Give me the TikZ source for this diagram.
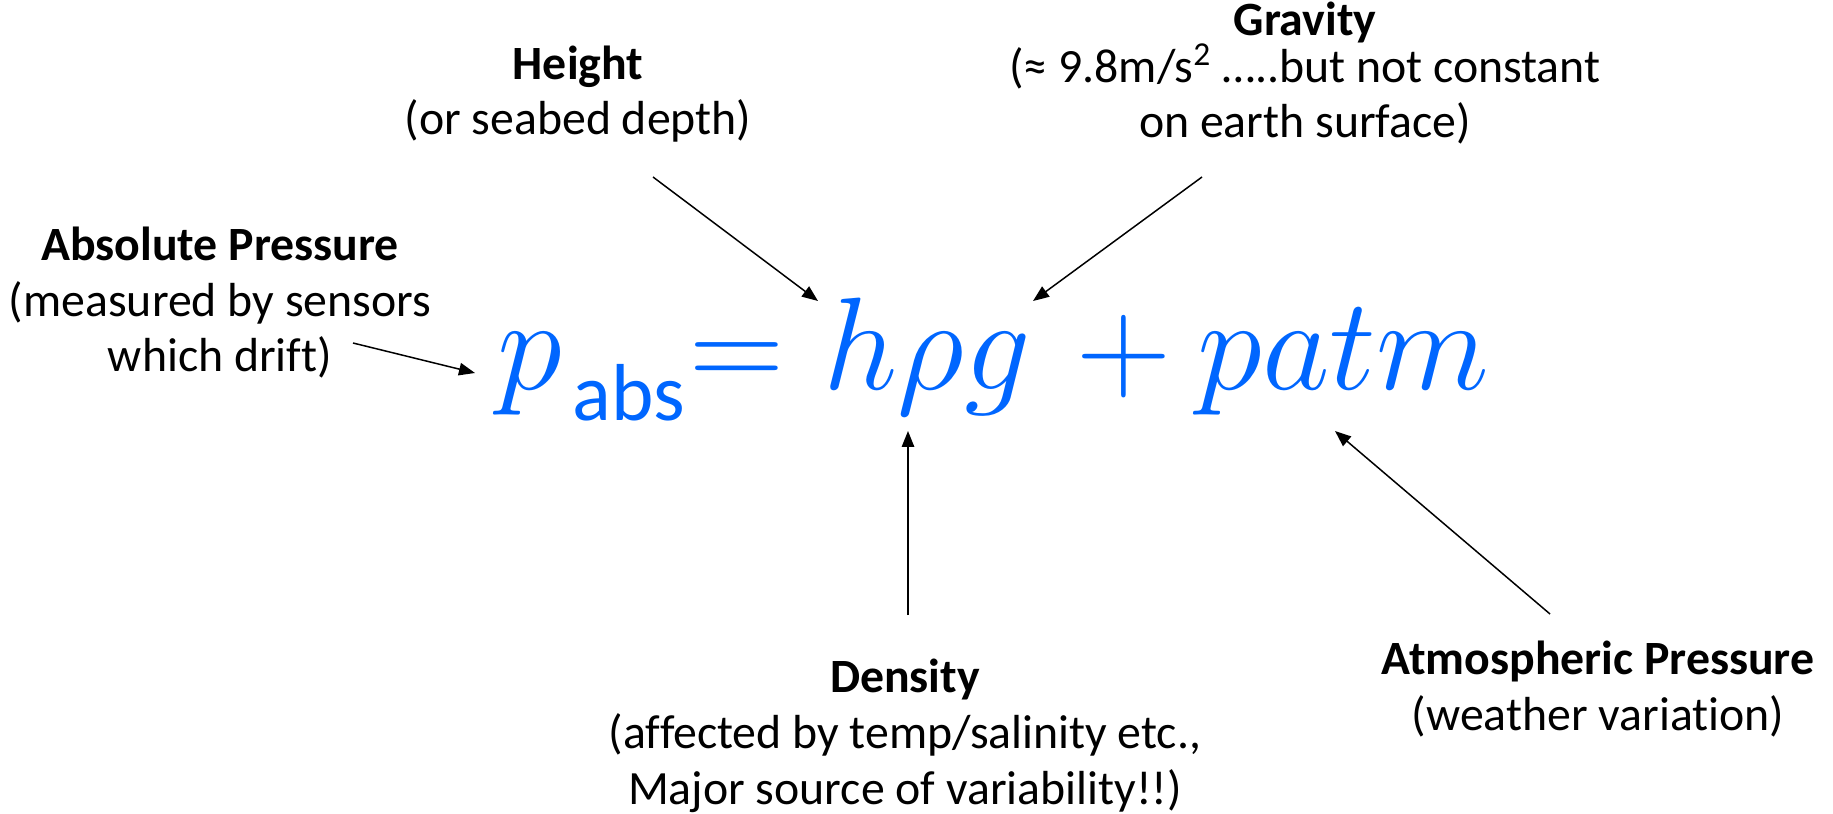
\documentclass[tikz,border=0pt]{standalone}
\usepackage{fix-cm}
\usepackage[no-math]{fontspec}
\setmainfont{Carlito}[Ligatures=CommonOff]
\usetikzlibrary{arrows.meta}
\definecolor{EqBlue}{RGB}{0,102,255}
\tikzset{
  lbl/.style={align=center,inner sep=0pt,anchor=base,font=\fontsize{27.2}{31.6}\selectfont},
  eqpart/.style={EqBlue,inner sep=0pt,anchor=base west,font=\fontsize{75}{90}\selectfont},
  ptr/.style={-{Triangle[length=0.32cm,width=0.25cm]},line width=0.85pt},
}

\begin{document}
\begin{tikzpicture}[x=0.02cm,y=-0.02cm]
  \useasboundingbox (0,0) rectangle (1833,814);

  % the labels round the formula (placed at the baseline of their last line)
  \node[lbl] (height) at (578,135) {\textbf{Height}\\(or seabed depth)};
  \node[lbl] (gravity) at (1305,138) {\textbf{Gravity}\\[-5pt](≈ 9.8m/s\textsuperscript{2} …..but not constant\\on earth surface)};
  \node[lbl] (absp) at (220,372) {\textbf{Absolute Pressure}\\(measured by sensors\\which drift)};
  \node[lbl] (density) at (905,804) {\textbf{Density}\\(affected by temp/salinity etc.,\\Major source of variability!!)};
  \node[lbl] (atmp) at (1598,730) {\textbf{Atmospheric Pressure}\\(weather variation)};

  % formula
  \node[eqpart] (eqp) at (497,389) {$p$};
  \node[eqpart,font=\fontsize{46}{55}\selectfont] (eqabs) at (572,420) {abs};
  \node[eqpart] (eqeq) at (689,389) {$=$};
  \node[eqpart] (eqhrg) at (823,389) {$h\rho g$};
  \node[eqpart] (eqplus) at (1076,389) {$+$};
  \node[eqpart] (eqpatm) at (1197,389) {$patm$};

  % arrows
  \coordinate (h-tail) at (653,177);   \coordinate (h-tip) at (818,301);
  \coordinate (g-tail) at (1202,177);  \coordinate (g-tip) at (1033,301);
  \coordinate (a-tail) at (353,343);   \coordinate (a-tip) at (475,373);
  \coordinate (d-tail) at (908,615);   \coordinate (d-tip) at (908,431);
  \coordinate (m-tail) at (1550,614);  \coordinate (m-tip) at (1335,431);
  \draw[ptr] (h-tail) -- (h-tip);
  \draw[ptr] (g-tail) -- (g-tip);
  \draw[ptr] (a-tail) -- (a-tip);
  \draw[ptr] (d-tail) -- (d-tip);
  \draw[ptr] (m-tail) -- (m-tip);
\end{tikzpicture}
\end{document}
